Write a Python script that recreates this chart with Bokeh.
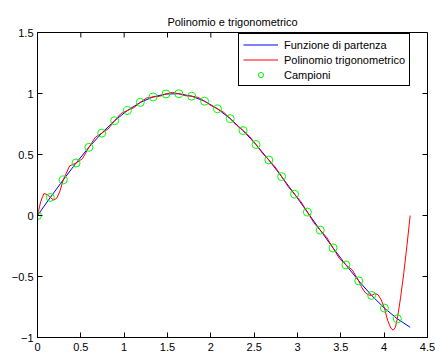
from bokeh.plotting import figure
from bokeh.models import Range1d, FixedTicker, Legend, LegendItem
from bokeh.embed import file_html
from bokeh.resources import INLINE

# ---- data ----
title_text = "Polinomio e trigonometrico"
x_lim = [0, 4.5]
y_lim = [-1, 1.5]
x_ticks = [0, 0.5, 1, 1.5, 2, 2.5, 3, 3.5, 4, 4.5]
x_tick_labels = ["0", "0.5", "1", "1.5", "2", "2.5", "3", "3.5", "4", "4.5"]
y_ticks = [-1, -0.5, 0, 0.5, 1, 1.5]
y_tick_labels = ["\u22121", "\u22120.5", "0", "0.5", "1", "1.5"]

# samples (green circles)
sample_x = [0.000, 0.148, 0.297, 0.445, 0.593, 0.741, 0.890, 1.038, 1.186, 1.334,
            1.483, 1.631, 1.779, 1.928, 2.076, 2.224, 2.372, 2.521, 2.669, 2.817,
            2.966, 3.114, 3.262, 3.410, 3.559, 3.707, 3.855, 4.003, 4.152]
sample_y = [0.000, 0.148, 0.292, 0.430, 0.559, 0.675, 0.777, 0.861, 0.927, 0.972,
            0.996, 0.998, 0.978, 0.937, 0.875, 0.794, 0.696, 0.582, 0.455, 0.319,
            0.175, 0.028, -0.120, -0.266, -0.405, -0.536, -0.655, -0.759, -0.847]

# original function (blue)
func_x = [0.000, 0.148, 0.297, 0.445, 0.593, 0.741, 0.890, 1.038, 1.186, 1.334,
          1.483, 1.631, 1.779, 1.928, 2.076, 2.224, 2.372, 2.521, 2.669, 2.817,
          2.966, 3.114, 3.262, 3.410, 3.559, 3.707, 3.855, 4.003, 4.152, 4.300]
func_y = [0.000, 0.148, 0.292, 0.430, 0.559, 0.675, 0.777, 0.861, 0.927, 0.972,
          0.996, 0.998, 0.978, 0.937, 0.875, 0.794, 0.696, 0.582, 0.455, 0.319,
          0.175, 0.028, -0.120, -0.266, -0.405, -0.536, -0.655, -0.759, -0.847, -0.916]

# trigonometric polynomial (red)
poly_x = [0.000, 0.037, 0.074, 0.111, 0.148, 0.185, 0.222, 0.259, 0.297,
          0.371, 0.445, 0.519, 0.593, 0.667, 0.741, 0.816, 0.890, 0.964, 1.038,
          1.112, 1.186, 1.260, 1.334, 1.409, 1.483, 1.557, 1.631, 1.705, 1.779,
          1.853, 1.928, 2.002, 2.076, 2.150, 2.224, 2.298, 2.372, 2.447, 2.521,
          2.595, 2.669, 2.743, 2.817, 2.891, 2.966, 3.040, 3.114, 3.188, 3.262,
          3.336, 3.410, 3.485, 3.559, 3.633, 3.707,
          3.744, 3.781, 3.818, 3.855, 3.892, 3.929, 3.966, 4.003,
          4.040, 4.078, 4.105, 4.130, 4.152, 4.189, 4.226, 4.263, 4.300]
poly_y = [0.000, 0.115, 0.180, 0.172, 0.148, 0.127, 0.141, 0.200, 0.292,
          0.407, 0.430, 0.466, 0.559, 0.641, 0.675, 0.710, 0.777, 0.836, 0.861,
          0.884, 0.927, 0.963, 0.972, 0.977, 0.996, 1.009, 0.998, 0.982, 0.978,
          0.968, 0.937, 0.901, 0.875, 0.845, 0.794, 0.739, 0.696, 0.648, 0.582,
          0.511, 0.455, 0.397, 0.319, 0.238, 0.175, 0.113, 0.028, -0.059, -0.120,
          -0.178, -0.266, -0.354, -0.405, -0.447, -0.536,
          -0.592, -0.632, -0.651, -0.655, -0.640, -0.649, -0.692, -0.759,
          -0.860, -0.925, -0.940, -0.915, -0.847, -0.675, -0.475, -0.245, 0.000]

FONT = "Liberation Sans"
W, H = 435, 356
BL, BR, BT, BB = 37, 8, 32, 19
TICK = 5

p = figure(width=W, height=H, x_range=Range1d(*x_lim), y_range=Range1d(*y_lim),
           output_backend="svg", toolbar_location=None, title=title_text)
p.min_border_left = BL
p.min_border_right = BR
p.min_border_top = BT
p.min_border_bottom = BB
p.background_fill_color = "white"
p.border_fill_color = "white"
p.outline_line_color = "black"
p.outline_line_width = 1
p.outline_line_alpha = 1
p.xgrid.visible = False
p.ygrid.visible = False

p.title.text_font = FONT
p.title.text_font_size = "11px"
p.title.text_font_style = "normal"
p.title.align = "center"
p.title.text_color = "black"


def style_axis(ax, ticks, labels):
    ax.ticker = FixedTicker(ticks=ticks)
    ax.major_label_overrides = {t: l for t, l in zip(ticks, labels)}
    ax.major_tick_in = TICK
    ax.major_tick_out = 0
    ax.minor_tick_in = 0
    ax.minor_tick_out = 0
    ax.axis_line_color = "black"
    ax.major_tick_line_color = "black"
    ax.major_tick_line_width = 1
    ax.major_label_text_font = FONT
    ax.major_label_text_color = "black"
    ax.major_label_text_font_size = "11px"


style_axis(p.xaxis[0], x_ticks, x_tick_labels)
p.xaxis[0].major_label_standoff = 5
style_axis(p.yaxis[0], y_ticks, y_tick_labels)
p.yaxis[0].major_label_standoff = 4

r_blue = p.line(func_x, func_y, line_color="#0000ff", line_width=1)
r_red = p.line(poly_x, poly_y, line_color="#ff0000", line_width=1)
r_pts = p.scatter(sample_x, sample_y, marker="circle", size=8, fill_color=None,
                  line_color="#00ff00", line_width=1)

# mirrored inward ticks on the top and right edges
dy = TICK * (y_lim[1] - y_lim[0]) / (H - BT - BB)
dx = TICK * (x_lim[1] - x_lim[0]) / (W - BL - BR)
p.segment(x0=x_ticks, y0=[y_lim[1]] * len(x_ticks),
          x1=x_ticks, y1=[y_lim[1] - dy] * len(x_ticks),
          line_color="black", line_width=1)
p.segment(x0=[x_lim[1]] * len(y_ticks), y0=y_ticks,
          x1=[x_lim[1] - dx] * len(y_ticks), y1=y_ticks,
          line_color="black", line_width=1)

legend = Legend(items=[
    LegendItem(label="Funzione di partenza", renderers=[r_blue]),
    LegendItem(label="Polinomio trigonometrico", renderers=[r_red]),
    LegendItem(label="Campioni", renderers=[r_pts]),
], location=(201, 251))
legend.border_line_color = "black"
legend.border_line_width = 1
legend.border_line_alpha = 1
legend.background_fill_color = "white"
legend.background_fill_alpha = 1
legend.padding = 4
legend.spacing = 2
legend.margin = 0
legend.label_height = 13
legend.glyph_height = 13
legend.glyph_width = 35
legend.label_standoff = 6
legend.label_text_font = FONT
legend.label_text_font_size = "11px"
legend.label_text_color = "black"
p.add_layout(legend, "center")

open("out.html", "w").write(file_html(p, INLINE))
